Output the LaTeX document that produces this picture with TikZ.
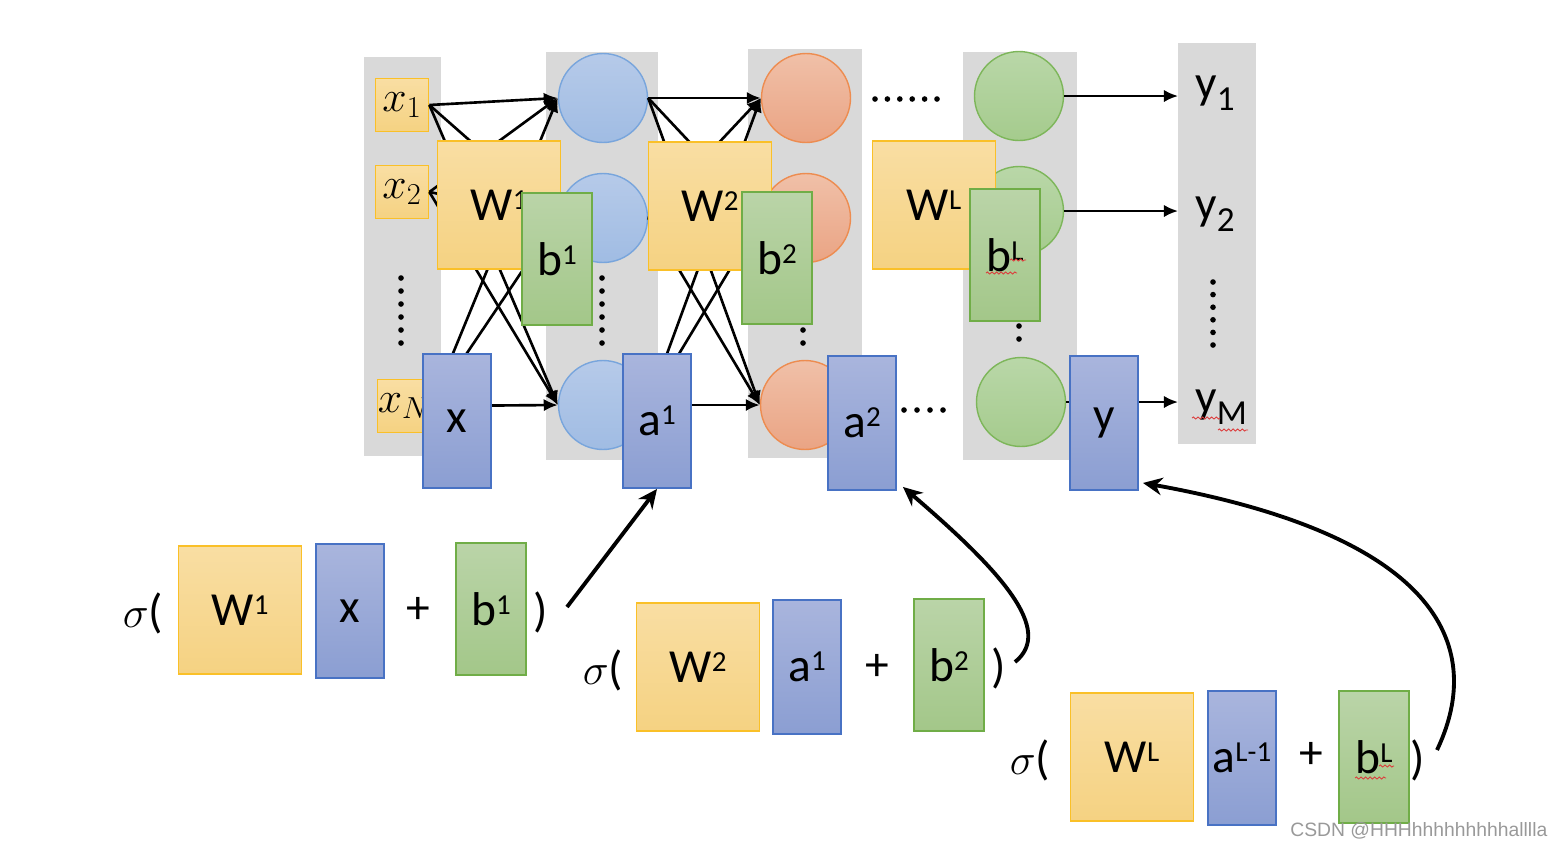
\documentclass[tikz,border=0pt]{standalone}
\usepackage{fontspec}
\setmainfont{Carlito}
\newfontfamily\wmfont{Liberation Sans}
\usetikzlibrary{arrows.meta,decorations.pathmorphing}

\definecolor{colgray}{RGB}{217,217,217}
\definecolor{wtop}{RGB}{249,222,163}
\definecolor{wbot}{RGB}{245,210,130}
\definecolor{wline}{RGB}{250,192,40}
\definecolor{vtop}{RGB}{169,181,221}
\definecolor{vbot}{RGB}{139,158,210}
\definecolor{vline}{RGB}{72,114,196}
\definecolor{btop}{RGB}{186,212,168}
\definecolor{bbot}{RGB}{163,199,137}
\definecolor{bline}{RGB}{112,173,71}
\definecolor{ctop}{RGB}{182,202,233}
\definecolor{cbot}{RGB}{160,188,227}
\definecolor{cline}{RGB}{120,165,220}
\definecolor{otop}{RGB}{240,192,168}
\definecolor{obot}{RGB}{234,164,132}
\definecolor{oline}{RGB}{237,140,80}
\definecolor{gtop}{RGB}{185,215,168}
\definecolor{gbot}{RGB}{165,203,141}
\definecolor{gline}{RGB}{125,182,90}
\definecolor{spell}{RGB}{220,60,60}

\newcommand{\upidx}[1]{\raisebox{6pt}{\fontsize{16.5}{17}\selectfont #1}}
\newcommand{\dnidx}[1]{\raisebox{-7pt}{\fontsize{20}{20}\selectfont #1}}

\begin{document}
\begin{tikzpicture}[x=0.02cm,y=-0.02cm,
    every node/.append style={font=\fontsize{27}{32}\selectfont},
    unit/.style={circle,inner sep=0pt,minimum size=1.78cm,line width=0.8pt},
    lay1/.style={unit,draw=cline,top color=ctop,bottom color=cbot},
    lay2/.style={unit,draw=oline,top color=otop,bottom color=obot},
    lay3/.style={unit,draw=gline,top color=gtop,bottom color=gbot},
    inbox/.style={draw=wline,line width=1pt,top color=wtop,bottom color=wbot,
                  minimum size=1.06cm,inner sep=0pt},
    wbox/.style={draw=wline,line width=1.1pt,top color=wtop,bottom color=wbot,
                 minimum width=2.46cm,minimum height=2.56cm,inner sep=0pt},
    vbox/.style={draw=vline,line width=1.1pt,top color=vtop,bottom color=vbot,
                 minimum width=1.36cm,minimum height=2.68cm,inner sep=0pt},
    bbox/.style={draw=bline,line width=1.1pt,top color=btop,bottom color=bbot,
                 minimum width=1.4cm,minimum height=2.64cm,inner sep=0pt},
    outlabel/.style={anchor=base west,inner xsep=0.34cm,inner ysep=0pt},
    link/.style={line width=1.5pt,-{Latex[length=8pt,width=7pt]}},
    feed/.style={line width=2.2pt,-{Stealth[length=11pt,width=10pt]}},
    spellmark/.style={spell,line width=0.5pt,decorate,
                      decoration={snake,amplitude=0.6pt,segment length=2.6pt}}]
    \useasboundingbox (0,0) rectangle (1562,846);

    % layer columns
    \fill[colgray] (364,57) rectangle (441,456);
    \fill[colgray] (546,52) rectangle (658,460);
    \fill[colgray] (748,49) rectangle (862,458);
    \fill[colgray] (963,52) rectangle (1077,460);
    \fill[colgray] (1178,43) rectangle (1256,444);

    % neurons
    \node[lay1] (c1) at (603,98) {};
    \node[lay1] (c2) at (603,218) {};
    \node[lay1] (cN) at (603,405) {};
    \node[lay2] (o1) at (806,98) {};
    \node[lay2] (o2) at (806,218) {};
    \node[lay2] (oN) at (805,405) {};
    \node[lay3] (g1) at (1019,96) {};
    \node[lay3] (g2) at (1019,211) {};
    \node[lay3] (gN) at (1021,402) {};

    \node[inbox] (x1) at (402,105) {$x_1$};
    \node[inbox] (x2) at (402,192) {$x_2$};
    \node[inbox] (xN) at (404,406) {$x_N$};

    \node[outlabel] (y1) at (1178,98) {y\dnidx{1}};
    \node[outlabel] (y2) at (1178,219) {y\dnidx{2}};
    \node[outlabel] (yM) at (1178,412) {y\dnidx{M}};

    % full connections
    \foreach \a in {x1,x2,xN}
      \foreach \b in {c1,c2,cN}
        \draw[link] (\a.east) -- (\b.west);
    \foreach \a in {c1,c2,cN}
      \foreach \b in {o1,o2,oN}
        \draw[link] (\a.east) -- (\b.west);
    \draw[link,line width=1.3pt] (g1.east) -- (g1.east -| y1.west);
    \draw[link,line width=1.3pt] (g2.east) -- (g2.east -| y2.west);
    \draw[link,line width=1.3pt] (gN.east) -- (gN.east -| yM.west);

    % matrices on top of the net
    \node[wbox] (W1) at (499,205) {W\upidx{1}};
    \node[bbox] (b1) at (557,259) {b\upidx{1}};
    \node[vbox] (xv) at (457,421) {x};
    \node[vbox] (a1) at (657,421) {a\upidx{1}};
    \node[wbox] (W2) at (710,206) {W\upidx{2}};
    \node[bbox] (b2) at (777,258) {b\upidx{2}};
    \node[vbox] (a2) at (862,423) {a\upidx{2}};
    \node[wbox] (WL) at (934,205) {W\upidx{L}};
    \node[bbox] (bL) at (1005,255) {b\upidx{L}};
    \node[vbox] (yv) at (1104,423) {y};

    % dots
    \foreach \y in {278,291,...,343} {
      \fill (401,\y) circle (1.6pt);
      \fill (602,\y) circle (1.6pt);
    }
    \foreach \y in {282,294.6,...,346} \fill (1213,\y) circle (1.6pt);
    \fill (803,330) circle (1.6pt);
    \fill (803,343) circle (1.6pt);
    \fill (1019,326) circle (1.6pt);
    \fill (1019,339) circle (1.6pt);
    \foreach \x in {875,887.4,...,938} \fill (\x,99) circle (1.6pt);
    \foreach \x in {904,917,...,944} \fill (\x,410) circle (1.6pt);

    % equations
    \node (s1) at (143,613) {$\sigma$(};
    \node[wbox] (eW1) at (240,610) {W\upidx{1}};
    \node[vbox] (ex) at (350,611) {x};
    \node (p1) at (418,610) {+};
    \node[bbox] (eb1) at (491,609) {b\upidx{1}};
    \node (r1) at (541,612) {)};

    \node (s2) at (603,670) {$\sigma$(};
    \node[wbox] (eW2) at (698,667) {W\upidx{2}};
    \node[vbox] (ea1) at (807,667) {a\upidx{1}};
    \node (p2) at (877,667) {+};
    \node[bbox] (eb2) at (949,665) {b\upidx{2}};
    \node (r2) at (999,668) {)};

    \node (s3) at (1030,760) {$\sigma$(};
    \node[wbox] (eWL) at (1132,757) {W\upidx{L}};
    \node[vbox] (eaL) at (1242,758) {a\upidx{L-1}};
    \node (p3) at (1311,755) {+};
    \node[bbox] (ebL) at (1374,757) {b\upidx{L}};
    \node (r3) at (1418,760) {)};

    \coordinate (t1) at (567,607);
    \coordinate (t2) at (1015,662);
    \coordinate (t3) at (1437,750);
    \draw[feed] (t1) -- (a1.south);
    \draw[feed] (t2) .. controls (1055,630) and (1000,570) .. ([shift={(6,-4)}]a2.south east);
    \draw[feed] (t3) .. controls (1480,660) and (1460,540) .. ([shift={(4,-8)}]yv.south east);

    % spell-check marks
    \draw[spellmark] (986,273) -- (1017,273);
    \draw[spellmark] (1010,260) -- (1026,260);
    \draw[spellmark] (1192,418) -- (1220,418);
    \draw[spellmark] (1218,430) -- (1248,430);
    \draw[spellmark] (1355,778) -- (1386,778);
    \draw[spellmark] (1379,766) -- (1394,766);

    \node[anchor=base west,inner sep=0pt,text=black!40,
          font=\wmfont\fontsize{11}{12}\selectfont] (wm) at (1290,836)
          {CSDN @HHHhhhhhhhhhalllla};
\end{tikzpicture}
\end{document}
